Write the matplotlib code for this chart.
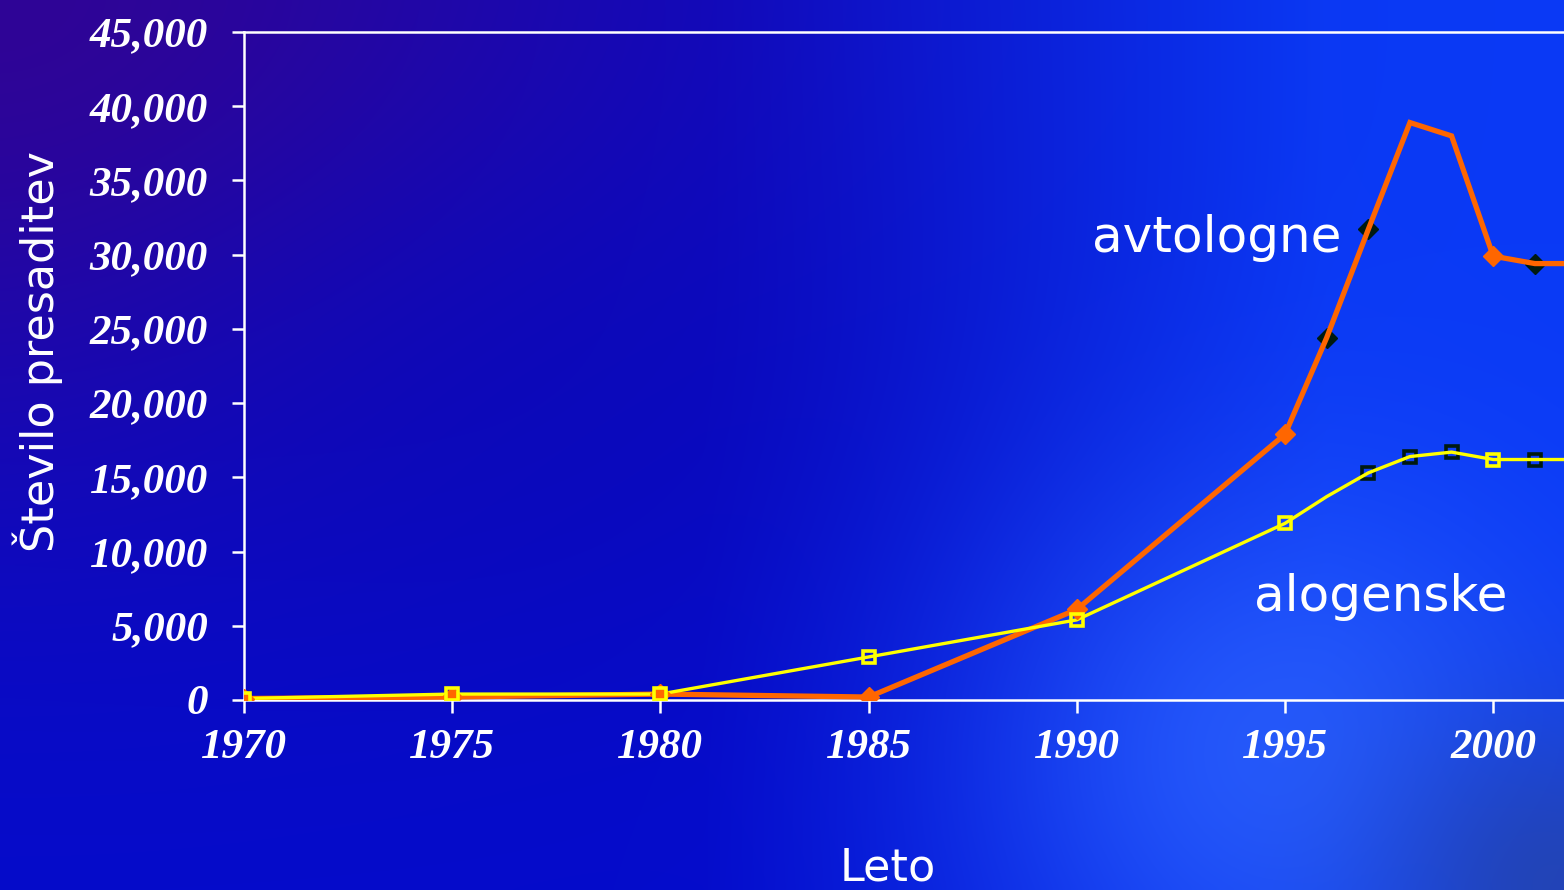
import numpy as np
import matplotlib
matplotlib.use("Agg")
import matplotlib.pyplot as plt
from matplotlib.font_manager import FontProperties

# --- data ---
leta = [1970, 1975, 1980, 1985, 1990, 1995, 1996, 1997, 1998, 1999, 2000, 2001, 2002]
avtologne = [100, 200, 400, 200, 6100, 17900, 24400, 31700, 38900, 38000, 29900, 29400, 29400]
alogenske = [100, 400, 400, 2900, 5400, 11900, 13700, 15300, 16400, 16700, 16200, 16200, 16200]

# markers drawn in colour vs. black (as in the original slide)
avto_barvni = [1970, 1975, 1980, 1985, 1990, 1995, 2000]
avto_crni = [1996, 1997, 2001]
alo_barvni = [1970, 1975, 1980, 1985, 1990, 1995, 2000]
alo_crni = [1997, 1998, 1999, 2001]

y_ticks = [0, 5000, 10000, 15000, 20000, 25000, 30000, 35000, 40000, 45000]
x_ticks = [1970, 1975, 1980, 1985, 1990, 1995, 2000]

oranzna = '#ff6600'
rumena = '#ffff00'
bela = 'white'

fig = plt.figure(figsize=(15.64, 8.9), dpi=100)

# --- ozadje: modri gradient ---
bg = fig.add_axes([0, 0, 1, 1], zorder=-1)
h, w = 200, 352
yy, xx = np.mgrid[0:1:h * 1j, 0:1:w * 1j]
levo = np.array([0x04, 0x0c, 0xcc]) / 255
desno = np.array([0x0a, 0x3a, 0xf6]) / 255
t = np.clip((xx - 0.45) / 0.4, 0, 1)[..., None]
img = levo * (1 - t) + desno * t
# vijolični zgornji levi kot
vij = np.exp(-((xx / 0.45) ** 2 + (yy / 0.55) ** 2))[..., None]
img = img + vij * (np.array([0x34, 0x04, 0x90]) / 255 - img) * 0.9
# temnejša lisa na sredini levo
dark = np.exp(-(((xx - 0.35) / 0.25) ** 2 + ((yy - 0.45) / 0.3) ** 2))[..., None]
img = img + dark * (np.array([0x08, 0x08, 0xb8]) / 255 - img) * 0.5
# svetlejša lisa desno spodaj
spot = np.exp(-(((xx - 0.82) / 0.18) ** 2 + ((yy - 0.85) / 0.3) ** 2))[..., None]
img = img + spot * (np.array([0x2c, 0x62, 0xff]) / 255 - img) * 0.8
# temnejši spodnji desni kot
kot = np.exp(-(((xx - 1.0) / 0.12) ** 2 + ((yy - 1.0) / 0.2) ** 2))[..., None]
img = img + kot * (np.array([0x24, 0x44, 0xb0]) / 255 - img) * 0.9
bg.imshow(np.clip(img, 0, 1), aspect='auto', extent=[0, 1, 0, 1], interpolation='bicubic')
bg.axis('off')

ax = fig.add_axes([244 / 1564, 1 - 700 / 890, 1 - 244 / 1564, (700 - 32) / 890])
ax.set_facecolor('none')

def izberi(seznam, leta_izbor):
    return [v for l, v in zip(leta, seznam) if l in leta_izbor]

# avtologne
ax.plot(leta, avtologne, color=oranzna, linewidth=3.8, zorder=3, solid_joinstyle='miter')
ax.plot(avto_barvni, izberi(avtologne, avto_barvni), linestyle='none', marker='D',
        markersize=10, color=oranzna, zorder=5)
ax.plot(avto_crni, izberi(avtologne, avto_crni), linestyle='none', marker='D',
        markersize=10, color='#001a10', zorder=2)

# alogenske
ax.plot(leta, alogenske, color=rumena, linewidth=2.4, zorder=4)
ax.plot(alo_barvni, izberi(alogenske, alo_barvni), linestyle='none', marker='s',
        markersize=9, markerfacecolor='none', markeredgecolor=rumena,
        markeredgewidth=2.6, zorder=6)
ax.plot(alo_crni, izberi(alogenske, alo_crni), linestyle='none', marker='s',
        markersize=9, markerfacecolor='none', markeredgecolor='#001a10',
        markeredgewidth=2.6, zorder=2)

ax.set_xlim(1970, 2001.7)
ax.set_ylim(0, 45000)
ax.set_xticks(x_ticks)
ax.set_yticks(y_ticks)
ax.set_yticklabels([f'{v:,}' for v in y_ticks])

for side in ['left', 'bottom', 'top']:
    ax.spines[side].set_color(bela)
    ax.spines[side].set_linewidth(1.8)
ax.spines['right'].set_visible(False)

tick_font = FontProperties(family='Liberation Serif', style='italic', weight='bold', size=31)
ax.tick_params(axis='y', colors=bela, length=9, width=1.8, pad=17)
ax.tick_params(axis='x', colors=bela, length=9, width=1.8, pad=12)
for lab in ax.get_xticklabels() + ax.get_yticklabels():
    lab.set_fontproperties(tick_font)
    lab.set_color(bela)

# --- napisi ---
fig.text(38 / 1564, 1 - 352 / 890, 'Število presaditev', rotation=90, color=bela,
         fontsize=32, family='DejaVu Sans', ha='center', va='center')
fig.text(888 / 1564, 1 - 868 / 890, 'Leto', color=bela, fontsize=32,
         family='DejaVu Sans', ha='center', va='center')
ax.text(1990.37, 31100, 'avtologne', color=bela, fontsize=36, family='DejaVu Sans',
        ha='left', va='center')
ax.text(1994.26, 6950, 'alogenske', color=bela, fontsize=36, family='DejaVu Sans',
        ha='left', va='center')

fig.savefig('out.png', dpi=100)
